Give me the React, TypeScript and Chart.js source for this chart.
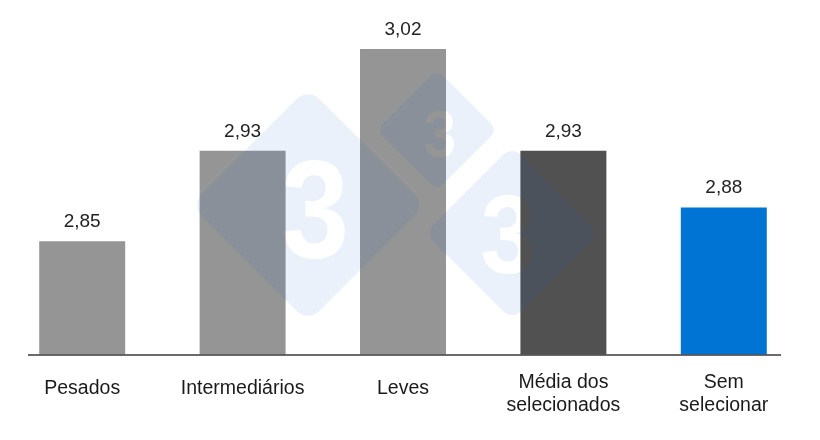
import { useEffect, useRef } from 'react';
import { Chart, registerables } from 'chart.js';

Chart.register(...registerables);

// categories (multi-line labels as drawn under the bars)
const categories: string[][] = [
  ['Pesados'],
  ['Intermediários'],
  ['Leves'],
  ['Média dos', 'selecionados'],
  ['Sem', 'selecionar'],
];
const values = [2.85, 2.93, 3.02, 2.93, 2.88];
const barColors = ['#959595', '#959595', '#959595', '#515151', '#0074D4'];

const Y_MIN = 2.75;
const Y_MAX = 3.05;

const FONT = '"Liberation Sans", Arial, sans-serif';

// 3tres3 watermark: three rounded diamonds with a "3" cut out of each
const WATERMARK = [
  { cx: 308, cy: 205, side: 166, r: 16, tx: 315, ty: 257, font: 140 },
  { cx: 437, cy: 130, side: 85, r: 8, tx: 440, ty: 157, font: 66 },
  { cx: 512, cy: 233, side: 123, r: 12, tx: 508, ty: 273, font: 112 },
];

const fmt = (v: number) => v.toFixed(2).replace('.', ',');

const decorPlugin = {
  id: 'decor',
  afterDatasetsDraw(chart: any) {
    const { ctx, chartArea } = chart;
    const xs = chart.scales.x;
    const meta = chart.getDatasetMeta(0);

    // watermark on top of the bars, translucent
    const dpr = chart.currentDevicePixelRatio || 1;
    const off = document.createElement('canvas');
    off.width = chart.canvas.width;
    off.height = chart.canvas.height;
    const o = off.getContext('2d');
    if (o) {
      o.scale(dpr, dpr);
      o.fillStyle = 'rgb(16,96,198)';
      for (const d of WATERMARK) {
        o.save();
        o.translate(d.cx, d.cy);
        o.rotate(Math.PI / 4);
        o.beginPath();
        o.roundRect(-d.side / 2, -d.side / 2, d.side, d.side, d.r);
        o.fill();
        o.restore();
      }
      o.globalCompositeOperation = 'destination-out';
      o.fillStyle = '#000';
      o.textAlign = 'center';
      o.textBaseline = 'alphabetic';
      for (const d of WATERMARK) {
        o.save();
        o.translate(d.tx, d.ty);
        o.scale(0.88, 1);
        o.font = `bold ${d.font}px ${FONT}`;
        o.fillText('3', 0, 0);
        o.restore();
      }
      ctx.save();
      ctx.setTransform(1, 0, 0, 1, 0, 0);
      ctx.globalAlpha = 0.088;
      ctx.drawImage(off, 0, 0);
      ctx.restore();
    }

    ctx.save();
    // baseline
    ctx.strokeStyle = '#3a3a3a';
    ctx.lineWidth = 1.5;
    ctx.beginPath();
    ctx.moveTo(chartArea.left + 26, chartArea.bottom + 0.5);
    ctx.lineTo(chartArea.right - 23, chartArea.bottom + 0.5);
    ctx.stroke();

    // value labels above bars
    ctx.fillStyle = '#222';
    ctx.textAlign = 'center';
    ctx.textBaseline = 'alphabetic';
    ctx.font = `19px ${FONT}`;
    meta.data.forEach((bar: any, i: number) => {
      ctx.fillText(fmt(values[i]), bar.x, bar.y - 14);
    });

    // category labels
    ctx.fillStyle = '#1a1a1a';
    ctx.font = `19.5px ${FONT}`;
    categories.forEach((lines, i) => {
      const x = xs.getPixelForValue(i);
      const first = chartArea.bottom + (lines.length === 1 ? 39.5 : 33.5);
      lines.forEach((line, j) => ctx.fillText(line, x, first + j * 22.5));
    });
    ctx.restore();
  },
};

export default function App() {
  const canvasRef = useRef<HTMLCanvasElement | null>(null);

  useEffect(() => {
    document.body.style.margin = '0';
    if (!canvasRef.current) return;
    const chart = new Chart(canvasRef.current, {
      type: 'bar',
      data: {
        labels: categories.map((c) => c.join(' ')),
        datasets: [{
          data: values,
          backgroundColor: barColors,
          borderWidth: 0,
          categoryPercentage: 1,
          barPercentage: 0.536,
        }],
      },
      options: {
        animation: false,
        responsive: true,
        maintainAspectRatio: false,
        layout: { padding: { top: 15, right: 16, left: 2, bottom: 85.5 } },
        plugins: {
          legend: { display: false },
          tooltip: { enabled: false },
        },
        scales: {
          x: { display: false },
          y: { display: false, min: Y_MIN, max: Y_MAX },
        },
      },
      plugins: [decorPlugin],
    });
    return () => chart.destroy();
  }, []);

  return (
    <div style={{ width: 820, height: 440, background: '#fff' }}>
      <canvas ref={canvasRef} />
    </div>
  );
}
